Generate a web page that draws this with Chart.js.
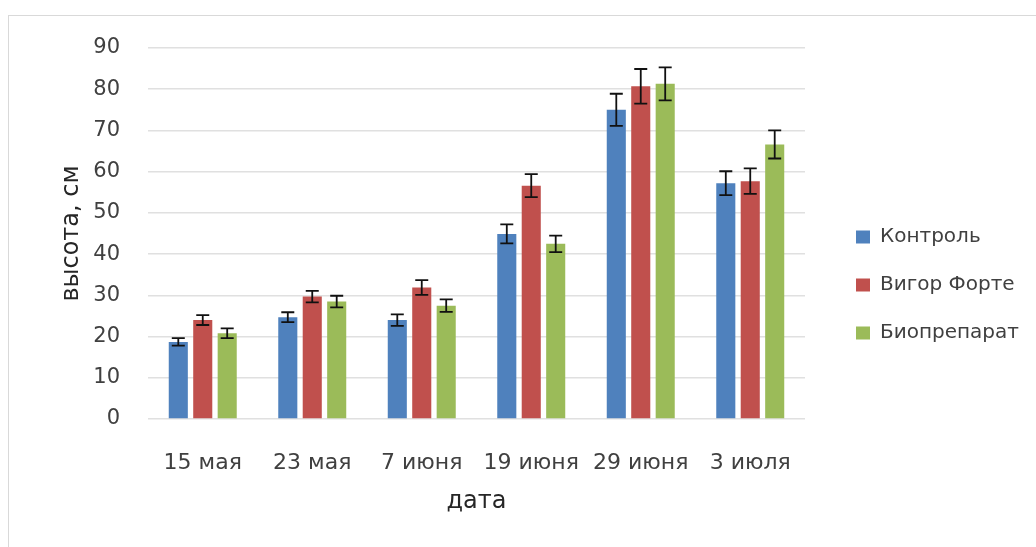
<!DOCTYPE html>
<html><head><meta charset="utf-8">
<script src="https://cdn.jsdelivr.net/npm/chart.js@4.4.0/dist/chart.umd.min.js"></script>
<style>
html,body{margin:0;padding:0;background:#fff;overflow:hidden;width:1036px;height:547px;}
#frame{position:absolute;left:8px;top:15px;width:1100px;height:600px;border:1px solid #d9d9d9;box-sizing:border-box;}
#c{position:absolute;left:0;top:0;}
</style></head><body>
<div id="frame"></div>
<canvas id="c" width="1036" height="547"></canvas>
<script>
const categories = ['15 мая', '23 мая', '7 июня', '19 июня', '29 июня', '3 июля'];
const seriesNames = ['Контроль', 'Вигор Форте', 'Биопрепарат'];
const kontrol    = [18.7, 24.7, 24.0, 44.9, 75.0, 57.2];
const kontrolErr = [0.9, 1.2, 1.4, 2.3, 3.9, 2.9];
const vigor      = [24.0, 29.7, 31.9, 56.6, 80.7, 57.7];
const vigorErr   = [1.2, 1.4, 1.8, 2.8, 4.2, 3.1];
const bio        = [20.8, 28.5, 27.5, 42.5, 81.3, 66.6];
const bioErr     = [1.2, 1.4, 1.5, 2.0, 4.0, 3.4];
const yTicks = [0, 10, 20, 30, 40, 50, 60, 70, 80, 90];

const FONT = '"DejaVu Sans", sans-serif';
const LEGEND_TARGET_W = 231;

const errorBars = {
  id: 'errorBars',
  afterDatasetsDraw(chart) {
    const ctx = chart.ctx;
    const y = chart.scales.y;
    ctx.save();
    ctx.strokeStyle = '#111';
    ctx.lineWidth = 1.8;
    chart.data.datasets.forEach((ds, di) => {
      const meta = chart.getDatasetMeta(di);
      meta.data.forEach((bar, i) => {
        const v = ds.data[i], e = ds.errors[i];
        const x = bar.x;
        const yt = y.getPixelForValue(v + e);
        const yb = y.getPixelForValue(v - e);
        const hw = 6.5;
        ctx.beginPath();
        ctx.moveTo(x, yt); ctx.lineTo(x, yb);
        ctx.moveTo(x - hw, yt); ctx.lineTo(x + hw, yt);
        ctx.moveTo(x - hw, yb); ctx.lineTo(x + hw, yb);
        ctx.stroke();
      });
    });
    ctx.restore();
  }
};

const legendPlace = {
  id: 'legendPlace',
  afterLayout(chart) {
    const lg = chart.legend;
    if (!lg) return;
    const pad = lg.options.labels.padding;
    const w = lg.width;
    lg.left = 856 - pad;
    lg.right = lg.left + w;
    const fs = lg.options.labels.font.size;
    const itemTop = 237 - fs / 2;
    const colH = lg.columnSizes && lg.columnSizes[0] ? lg.columnSizes[0].height : 144;
    lg.top = itemTop - pad;
    lg.bottom = itemTop + colH;
  }
};

const chart = new Chart(document.getElementById('c'), {
  type: 'bar',
  data: {
    labels: categories,
    datasets: [
      { label: seriesNames[0], data: kontrol, errors: kontrolErr, backgroundColor: '#4F81BD' },
      { label: seriesNames[1], data: vigor, errors: vigorErr, backgroundColor: '#C0504D' },
      { label: seriesNames[2], data: bio, errors: bioErr, backgroundColor: '#9BBB59' }
    ]
  },
  options: {
    responsive: false,
    animation: false,
    devicePixelRatio: 1,
    layout: { padding: { top: 48, left: 0, right: 0, bottom: 0 } },
    datasets: { bar: { barPercentage: 0.78, categoryPercentage: 0.67, borderWidth: 0 } },
    plugins: {
      legend: {
        position: 'right',
        align: 'center',
        maxWidth: LEGEND_TARGET_W,
        labels: {
          boxWidth: 14, boxHeight: 13, padding: 28,
          color: '#404040',
          font: { family: FONT, size: 20 }
        }
      },
      tooltip: { enabled: false }
    },
    scales: {
      x: {
        grid: { display: false },
        border: { display: false },
        ticks: { color: '#404040', font: { family: FONT, size: 22 }, padding: 23, maxRotation: 0, autoSkip: false },
        title: { display: true, text: 'дата', color: '#262626', font: { family: FONT, size: 24 }, padding: { top: 0, bottom: 31 } },
        afterFit(s) { s.height = 128; }
      },
      y: {
        min: 0, max: 90,
        afterBuildTicks(s) { s.ticks = yTicks.map(v => ({ value: v })); },
        grid: { color: '#e0e0e0', lineWidth: 1.5, drawTicks: false },
        border: { display: false },
        ticks: { color: '#404040', font: { family: FONT, size: 21 }, padding: 28 },
        title: { display: true, text: 'высота, см', color: '#262626', font: { family: FONT, size: 24 }, padding: { top: 57, bottom: 0 } },
        afterFit(s) { s.width = 148; }
      }
    }
  },
  plugins: [errorBars, legendPlace]
});

// make the legend take exactly the target width so the plot ends at x≈805
const lw = chart.legend.width;
if (lw < LEGEND_TARGET_W) {
  chart.options.layout.padding.right = LEGEND_TARGET_W - lw;
  chart.update('none');
}
</script>
</body></html>
